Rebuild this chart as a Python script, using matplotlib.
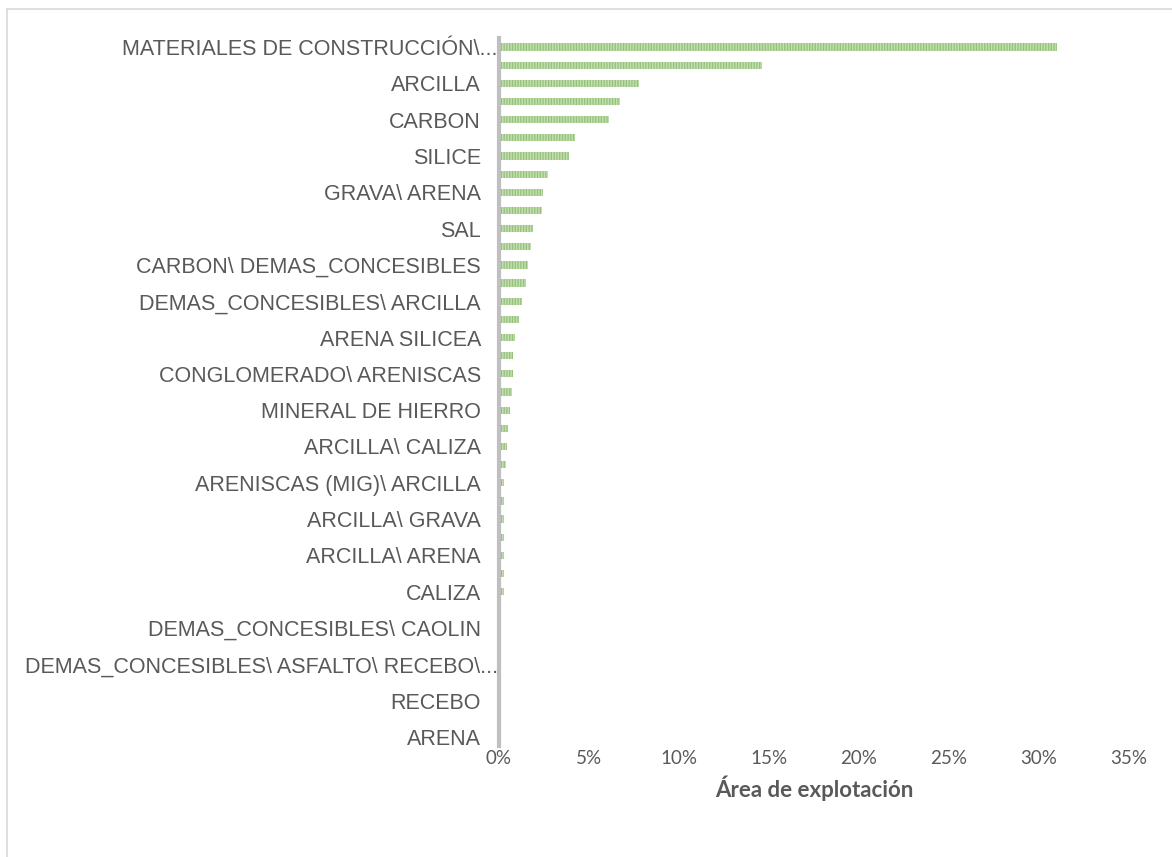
import matplotlib
matplotlib.use("Agg")
import matplotlib.pyplot as plt
from matplotlib.transforms import ScaledTranslation
from matplotlib.lines import Line2D

# ---- data ----
categories = [
    "MATERIALES DE CONSTRUCCIÓN\\...", "", "ARCILLA", "", "CARBON", "", "SILICE", "",
    "GRAVA\\ ARENA", "", "SAL", "", "CARBON\\ DEMAS_CONCESIBLES", "",
    "DEMAS_CONCESIBLES\\ ARCILLA", "", "ARENA SILICEA", "", "CONGLOMERADO\\ ARENISCAS", "",
    "MINERAL DE HIERRO", "", "ARCILLA\\ CALIZA", "", "ARENISCAS (MIG)\\ ARCILLA", "",
    "ARCILLA\\ GRAVA", "", "ARCILLA\\ ARENA", "", "CALIZA", "",
    "DEMAS_CONCESIBLES\\ CAOLIN", "", "DEMAS_CONCESIBLES\\ ASFALTO\\ RECEBO\\...", "",
    "RECEBO", "", "ARENA",
]
values = [
    31.0, 14.6, 7.8, 6.7, 6.1, 4.2, 3.9, 2.7, 2.45, 2.4,
    1.9, 1.75, 1.6, 1.5, 1.25, 1.1, 0.9, 0.8, 0.8, 0.7,
    0.62, 0.52, 0.46, 0.37, 0.3, 0.3, 0.3, 0.28, 0.27, 0.27,
    0.27, 0.1, 0.1, 0.05, 0.02, 0.0, 0.0, 0.0, 0.0,
]
xticks = [0, 5, 10, 15, 20, 25, 30, 35]
xtick_labels = [f"{v}%" for v in xticks]
xlabel = "Área de explotación"

# ---- style ----
plt.rcParams["hatch.linewidth"] = 0.9
text_color = "#595959"
face = "#c3deb0"
stripe = "#93c278"

W, H = 1172, 857
fig = plt.figure(figsize=(W / 100, H / 100), dpi=100)
ax = fig.add_axes([499 / W, 1 - 746 / H, 630 / W, 708 / H])

pos = list(range(len(categories)))
ax.barh(pos, values, height=0.4, color=face, edgecolor=stripe,
        linewidth=0, hatch="||||||", zorder=2)

ax.set_ylim(len(categories) - 0.5, -0.5)
ax.set_xlim(xticks[0], xticks[-1])
ax.set_xticks(xticks)
ax.set_xticklabels(xtick_labels, fontfamily="Lato", fontsize=13.5, color=text_color)
ax.set_yticks(pos)
ax.set_yticklabels(categories, fontfamily="Liberation Sans", fontsize=15.5, color=text_color)

for s in ["top", "right", "bottom"]:
    ax.spines[s].set_visible(False)
ax.spines["left"].set_color("#bfbfbf")
ax.spines["left"].set_linewidth(3.0)
ax.spines["left"].set_zorder(3)

ax.tick_params(axis="y", length=0, pad=13)
ax.tick_params(axis="x", length=0, pad=3)

ax.set_xlabel(xlabel, fontfamily="Lato", fontweight="bold", fontsize=16,
              color=text_color, labelpad=6)

# truncated labels: the dots overhang toward the axis as in the original
shift = ScaledTranslation(17 / 100, 0, fig.dpi_scale_trans)
for lab in ax.get_yticklabels():
    if lab.get_text().endswith("..."):
        lab.set_transform(lab.get_transform() + shift)

# chart frame (top and left edges visible)
fig.add_artist(Line2D([7 / W, 7 / W], [0, 1 - 9 / H], transform=fig.transFigure,
                      color="#d9d9d9", linewidth=1.2))
fig.add_artist(Line2D([7 / W, 1], [1 - 9 / H, 1 - 9 / H], transform=fig.transFigure,
                      color="#d9d9d9", linewidth=1.2))

fig.savefig("out.png", dpi=100)
